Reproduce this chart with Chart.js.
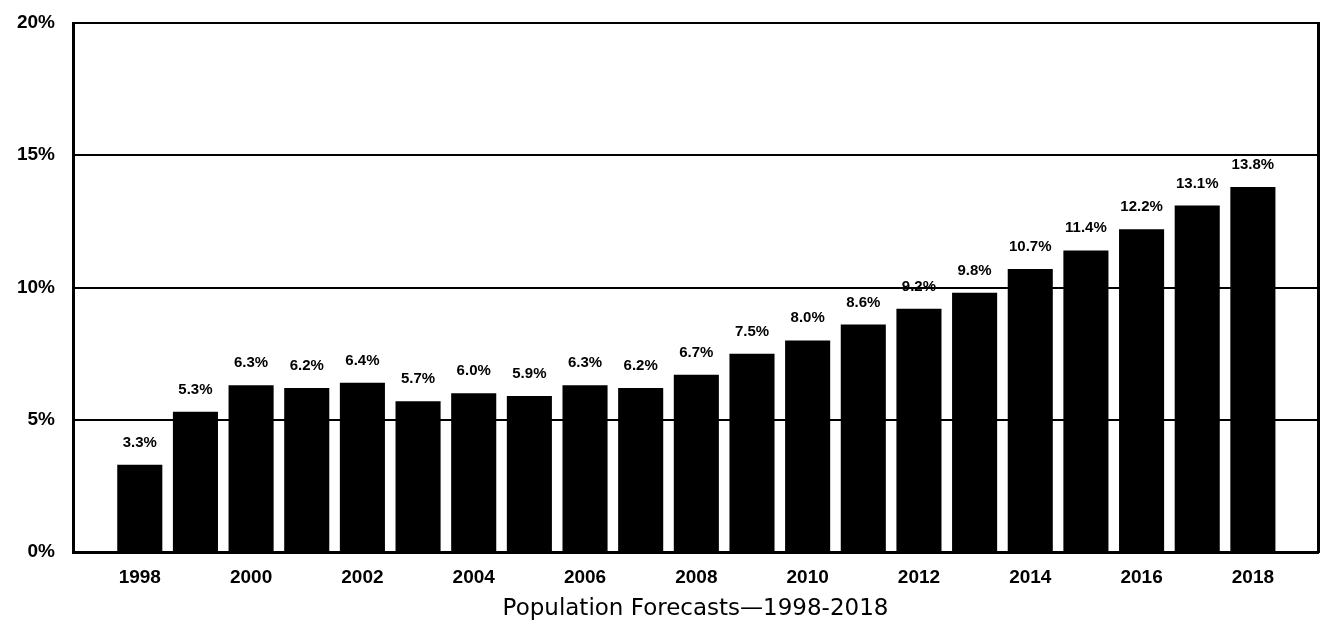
<!DOCTYPE html>
<html>
<head>
<meta charset="utf-8">
<script src="https://cdn.jsdelivr.net/npm/chart.js@4/dist/chart.umd.min.js"></script>
<style>
  html, body { margin: 0; padding: 0; background: #fff; }
  #wrap { width: 1323px; height: 624px; }
</style>
</head>
<body>
<div id="wrap"><canvas id="myChart" width="1323" height="624"></canvas></div>
<script>
// values
const years = [1998, 1999, 2000, 2001, 2002, 2003, 2004, 2005, 2006, 2007, 2008,
  2009, 2010, 2011, 2012, 2013, 2014, 2015, 2016, 2017, 2018];
const shares = [3.3, 5.3, 6.3, 6.2, 6.4, 5.7, 6.0, 5.9, 6.3, 6.2, 6.7,
  7.5, 8.0, 8.6, 9.2, 9.8, 10.7, 11.4, 12.2, 13.1, 13.8];
const yearTicks = [1998, 2000, 2002, 2004, 2006, 2008, 2010, 2012, 2014, 2016, 2018];
const pctTicks = [0, 5, 10, 15, 20];
const chartTitle = 'Population Forecasts\u20141998-2018';

// labels over every bar
const barValues = {
  id: 'barValues',
  afterDatasetsDraw(chart) {
    const ctx = chart.ctx;
    const meta = chart.getDatasetMeta(0);
    ctx.save();
    ctx.fillStyle = '#000';
    ctx.font = 'bold 15px "Liberation Sans"';
    ctx.textAlign = 'center';
    ctx.textBaseline = 'alphabetic';
    meta.data.forEach(function (bar, i) {
      ctx.fillText(shares[i].toFixed(1) + '%', bar.x, bar.y - 18);
    });
    ctx.restore();
  }
};

let data = {
  datasets: [{
    label: 'Share',
    data: years.map(function (y, i) { return { x: y, y: shares[i] }; }),
    backgroundColor: '#000',
    borderWidth: 0,
    categoryPercentage: 0.9,
    barPercentage: 0.9
  }]
};

let ctx = document.getElementById('myChart').getContext('2d');
window.myBar = new Chart(ctx, {
  type: 'bar',
  data: data,
  plugins: [barValues],
  options: {
    responsive: false,
    animation: false,
    layout: { padding: { top: 23, right: 5, left: 0, bottom: 3 } },
    plugins: {
      legend: { display: false },
      tooltip: { enabled: false }
    },
    scales: {
      x: {
        type: 'linear',
        min: 1996.8,
        max: 2019.17,
        offset: false,
        afterBuildTicks(axis) {
          axis.ticks = yearTicks.map(function (v) { return { value: v }; });
        },
        grid: { display: false, drawTicks: false },
        border: { color: '#000', width: 3 },
        ticks: {
          color: '#000',
          font: { family: 'Liberation Sans', size: 19, weight: 'bold' },
          padding: 14,
          maxRotation: 0,
          autoSkip: false,
          callback: function (v) { return String(v); }
        },
        title: {
          display: true,
          text: chartTitle,
          color: '#000',
          font: { family: 'DejaVu Sans', size: 23, lineHeight: 0.4 },
          padding: { top: 2, bottom: 7 }
        }
      },
      y: {
        min: 0,
        max: 20,
        afterBuildTicks(axis) {
          axis.ticks = pctTicks.map(function (v) { return { value: v }; });
        },
        afterFit(axis) { axis.width = 73; },
        grid: { color: '#000', lineWidth: 2, drawTicks: false },
        border: { color: '#000', width: 3 },
        ticks: {
          color: '#000',
          font: { family: 'Liberation Sans', size: 19, weight: 'bold', lineHeight: 0.5 },
          padding: 18,
          callback: function (v) { return v + '%'; }
        }
      },
      frame: {
        type: 'linear',
        position: 'right',
        min: 0,
        max: 20,
        grid: { display: false, drawTicks: false },
        border: { color: '#000', width: 3 },
        ticks: { display: false }
      }
    }
  }
});
</script>
</body>
</html>
